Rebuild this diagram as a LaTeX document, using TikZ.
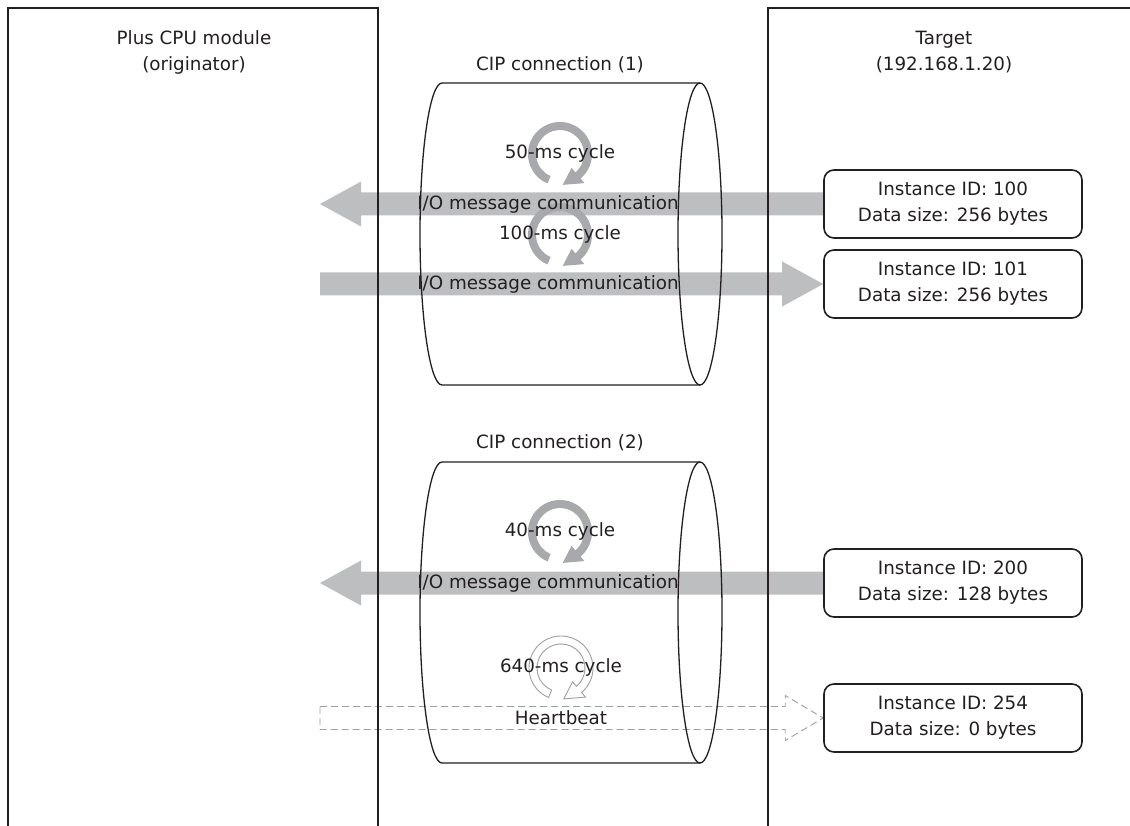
\documentclass[tikz,border=0pt]{standalone}
\usepackage{fontspec}
\setmainfont{DejaVu Sans}
\usetikzlibrary{calc,backgrounds}
\definecolor{ink}{HTML}{231F20}
\definecolor{band}{HTML}{BCBEC0}
\definecolor{ringc}{HTML}{A7A9AC}
\definecolor{hbc}{HTML}{9D9FA2}
% ring arrow: #1 centre, #2 style
\newcommand{\cyclering}[2]{%
  \begin{scope}[shift={#1}]
    \path[#2] (247:32pt) arc[start angle=247,end angle=-50,radius=32pt]
      -- (-50:38pt) -- (-85:31pt) -- (-50:18pt) -- (-50:24pt)
      arc[start angle=-50,end angle=247,radius=24pt] -- cycle;
  \end{scope}}
% band arrow: #1 style, #2 tail, #3 tip, #4 signed head length
\newcommand{\bandarrow}[4]{%
  \path[#1] ($(#2)+(0,-11.5)$) -- ($(#3)+(#4,-11.5)$) -- ($(#3)+(#4,-22.5)$)
    -- (#3) -- ($(#3)+(#4,22.5)$) -- ($(#3)+(#4,11.5)$) -- ($(#2)+(0,11.5)$) -- cycle;}
\begin{document}
\begin{tikzpicture}[x=1pt,y=-1pt,
  every node/.style={text=ink, font=\fontsize{18.3}{26}\selectfont, inner sep=0pt, align=center},
  frame/.style={draw=ink, line width=2pt},
  cyl/.style={draw=ink, line width=1.3pt},
  boxst/.style={draw=ink, line width=1.6pt, rounded corners=10pt, fill=white,
    minimum width=258pt, minimum height=68pt},
  solidband/.style={fill=band},
  hbband/.style={draw=hbc, line width=0.9pt, dash pattern=on 7pt off 4pt},
  solidring/.style={fill=ringc},
  openring/.style={fill=white, draw=hbc, line width=0.9pt}]
\useasboundingbox (0,0) rectangle (1130,826);

% panels
\draw[frame] (8,826) -- (8,8) -- (378,8) -- (378,826);
\draw[frame] (768,826) -- (768,8) -- (1130,8);
\node (orig) at (194,52) {Plus CPU module\\(originator)};
\node (targ) at (944,52) {Target\\(192.168.1.20)};

% cylinders
\node (cip1) at (560,65) {CIP connection (1)};
\draw[cyl] (700,83) -- (442,83) arc[start angle=90,end angle=270,x radius=22pt,y radius=151pt] -- (700,385);
\draw[cyl] (700,234) ellipse [x radius=22pt,y radius=151pt];
\node (cip2) at (560,443) {CIP connection (2)};
\draw[cyl] (700,462) -- (442,462) arc[start angle=90,end angle=270,x radius=22pt,y radius=150.5pt] -- (700,763);
\draw[cyl] (700,612.5) ellipse [x radius=22pt,y radius=150.5pt];

% boxes
\node[boxst] (b1) at (953,204) {Instance ID: 100\\Data size: 256 bytes};
\node[boxst] (b2) at (953,284) {Instance ID: 101\\Data size: 256 bytes};
\node[boxst] (b3) at (953,583) {Instance ID: 200\\Data size: 128 bytes};
\node[boxst] (b4) at (953,718) {Instance ID: 254\\Data size: 0 bytes};

\coordinate (t1) at (320,204);
\coordinate (s2) at (320,284);
\coordinate (t3) at (320,583);
\coordinate (s4) at (320,718);

\begin{pgfonlayer}{background}
  \bandarrow{solidband}{b1.west}{t1}{41}
  \bandarrow{solidband}{s2}{b2.west}{-41}
  \bandarrow{solidband}{b3.west}{t3}{41}
  \bandarrow{hbband}{s4}{b4.west}{-38}
  \cyclering{(560,154)}{solidring}
  \cyclering{(560,235)}{solidring}
  \cyclering{(560,532)}{solidring}
  \cyclering{(561,668)}{openring}
\end{pgfonlayer}

\node (c1) at (560,153) {50-ms cycle};
\node (c2) at (560,234) {100-ms cycle};
\node (c3) at (560,531) {40-ms cycle};
\node (c4) at (561,667) {640-ms cycle};
\node (m1) at (548,204) {I/O message communication};
\node (m2) at (548,284) {I/O message communication};
\node (m3) at (548,583) {I/O message communication};
\node (m4) at (561,718) {Heartbeat};
\end{tikzpicture}
\end{document}
